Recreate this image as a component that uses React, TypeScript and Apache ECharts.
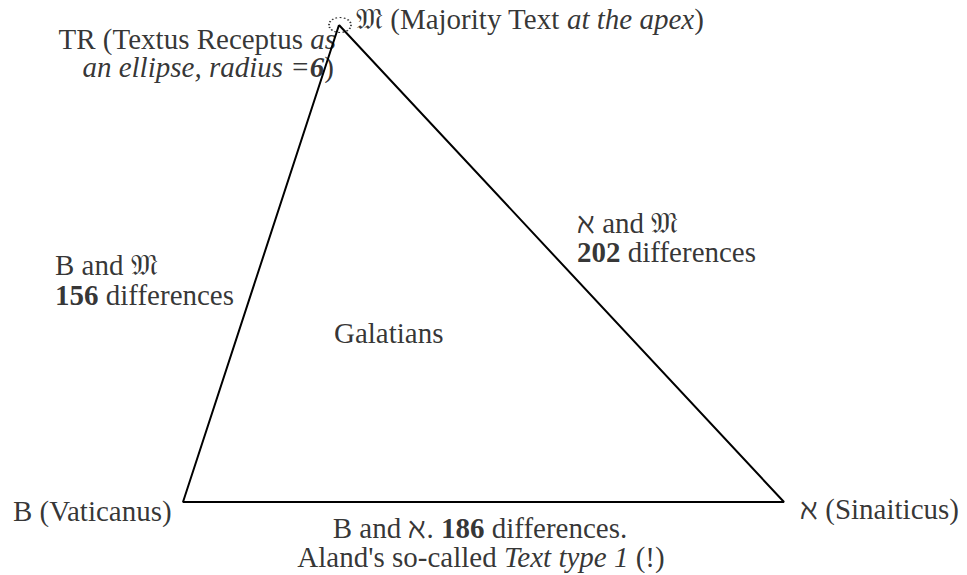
import React, { useEffect, useRef } from "react";
import * as echarts from "echarts";

// Triangle vertices in the picture's own coordinate space (x right, y down)
const vertexNames = ["Majority Text", "Vaticanus", "Sinaiticus"];
const vertexX = [339, 183, 784];
const vertexY = [25, 502, 502];
// TR drawn as an ellipse near the apex
const trCenter = [340, 25];
// Pairwise differences
const pairNames = ["B and 𝔐", "ℵ and 𝔐", "B and ℵ"];
const pairDifferences = [156, 202, 186];
const bookName = "Galatians";

// Annotation texts (rich-text markup)
const annotationTexts = [
  `{r|𝔐 (${vertexNames[0]} }{i|at the apex}{r|)}`,
  "{r|TR (Textus Receptus }{i|as}",
  "{i|an ellipse, radius =}{bi|6}{r|)}",
  `{r|${pairNames[0]}}`,
  `{b|${pairDifferences[0]}}{r| differences}`,
  `{r|${pairNames[1]}}`,
  `{b|${pairDifferences[1]}}{r| differences}`,
  `{r|${bookName}}`,
  `{r|B (${vertexNames[1]})}`,
  `{r|ℵ (${vertexNames[2]})}`,
  `{r|${pairNames[2]}. }{b|${pairDifferences[2]}}{r| differences.}`,
  "{r|Aland's so-called }{i|Text type 1}{r| (!)}",
];
// Layout of annotations: anchor x, text baseline y, alignment
const annotationX = [356, 336, 334, 55, 55, 577, 577, 334, 13, 800, 480, 481];
const annotationBaseline = [29, 49, 77, 275, 305, 233, 262, 343, 521, 519, 538, 567];
const annotationAlign = ["left", "right", "right", "left", "left", "left", "left", "left", "left", "left", "center", "center"];

const FAM = "Liberation Serif";
const FS = 29;
const base = { fontFamily: FAM, fontSize: FS, color: "#000" };
const rich = {
  r: { ...base },
  i: { ...base, fontStyle: "italic" },
  b: { ...base, fontWeight: "bold" },
  bi: { ...base, fontStyle: "italic", fontWeight: "bold" },
};

export default function App() {
  const ref = useRef<HTMLDivElement>(null);
  useEffect(() => {
    document.body.style.margin = "0";
    const chart = echarts.init(ref.current!, undefined, { renderer: "svg" });
    const tri = vertexX.map((x, i) => [x, vertexY[i]]);
    tri.push(tri[0]);
    const labelData = annotationTexts.map((t, i) => ({
      name: t,
      value: [annotationX[i], annotationBaseline[i] - FS * 0.3375],
      label: { align: annotationAlign[i] },
    }));
    chart.setOption({
      animation: false,
      backgroundColor: "#fff",
      grid: { left: 0, right: 0, top: 0, bottom: 0 },
      xAxis: { type: "value", min: 0, max: 967, show: false },
      yAxis: { type: "value", min: 0, max: 575, inverse: true, show: false },
      series: [
        {
          type: "line",
          name: "triangle",
          data: tri,
          symbol: "none",
          lineStyle: { color: "#000", width: 2 },
          silent: true,
        },
        {
          type: "scatter",
          name: "TR",
          data: [trCenter],
          symbol: "circle",
          symbolSize: [22, 15],
          itemStyle: {
            color: "rgba(0,0,0,0)",
            borderColor: "#000",
            borderWidth: 1.5,
            borderType: [1.5, 2],
          },
          silent: true,
        },
        {
          type: "scatter",
          name: "labels",
          data: labelData,
          symbolSize: 0,
          silent: true,
          itemStyle: { color: "rgba(0,0,0,0)" },
          label: {
            show: true,
            position: [0, 0],
            verticalAlign: "middle",
            formatter: (p: any) => p.name,
            ...base,
            rich,
          },
          labelLayout: { hideOverlap: false },
        },
      ],
    });
    return () => chart.dispose();
  }, []);
  return (
    <div
      ref={ref}
      style={{ position: "fixed", left: 0, top: 0, width: 967, height: 575 }}
    />
  );
}
